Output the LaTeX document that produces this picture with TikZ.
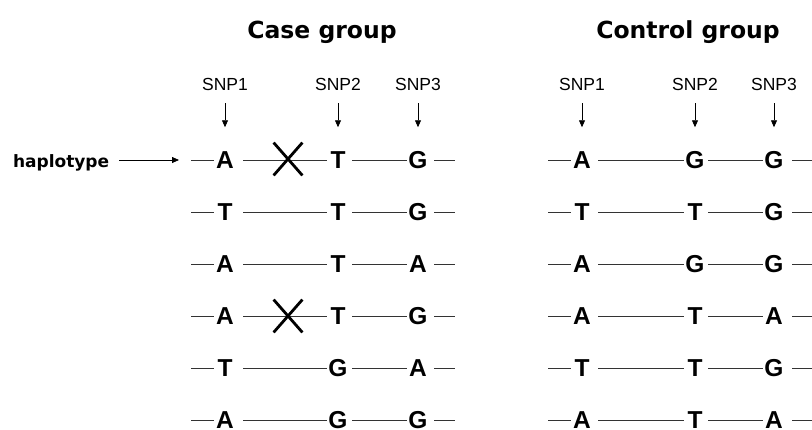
\documentclass[tikz,border=0pt]{standalone}
\usepackage{fontspec}
\setmainfont{Liberation Sans}
\newfontfamily\headfont{DejaVu Sans}
\usetikzlibrary{arrows.meta,shapes.misc}
\tikzset{
  base/.style={inner sep=0pt, outer sep=0pt},
  allele/.style={base, font=\bfseries\fontsize{24.5}{25}\selectfont, text height=17.5pt,
    text depth=0pt, minimum width=22pt, anchor=center},
  snplabel/.style={base, font=\fontsize{17.5}{18}\selectfont, text height=12.5pt,
    text depth=0pt},
  grouptitle/.style={base, font=\headfont\bfseries\fontsize{23.5}{24}\selectfont,
    text height=17pt, text depth=0pt},
  hapname/.style={base, font=\headfont\bfseries\fontsize{17}{18}\selectfont,
    text height=12pt, text depth=0pt, anchor=base west},
  link/.style={draw=black!80, line width=1pt},
  pointer/.style={line width=0.8pt, -{Triangle[width=6pt,length=7pt]}},
  recomb/.style={cross out, draw, line width=2.8pt, minimum width=26pt,
    minimum height=30pt, inner sep=0pt},
}
\begin{document}
\begin{tikzpicture}[x=1pt,y=-1pt]
\useasboundingbox (0,0) rectangle (812,429);
\clip (0,0) rectangle (812,429);

% group headings
\node[grouptitle] (casetitle) at (322,30) {Case group};
\node[grouptitle] (ctrltitle) at (688,30) {Control group};

% case group haplotypes
\foreach \i/\p/\q/\r in {1/A/T/G,2/T/T/G,3/A/T/A,4/A/T/G,5/T/G/A,6/A/G/G}{
  \pgfmathsetmacro\yy{160+52*(\i-1)}
  \node[allele] (c\i-a) at (225,\yy) {\p};
  \node[allele] (c\i-b) at (338,\yy) {\q};
  \node[allele] (c\i-c) at (418,\yy) {\r};
  \coordinate (c\i-l) at (191,\yy);
  \coordinate (c\i-r) at (455,\yy);
  \draw[link] (c\i-l) -- (c\i-a.west);
  \draw[link, shorten <=7pt] (c\i-a.east) -- (c\i-b.west);
  \draw[link, shorten <=3pt] (c\i-b.east) -- (c\i-c.west);
  \draw[link, shorten <=5pt] (c\i-c.east) -- (c\i-r);
}

% control group haplotypes
\foreach \i/\p/\q/\r in {1/A/G/G,2/T/T/G,3/A/G/G,4/A/T/A,5/T/T/G,6/A/T/A}{
  \pgfmathsetmacro\yy{160+52*(\i-1)}
  \node[allele] (k\i-a) at (582,\yy) {\p};
  \node[allele] (k\i-b) at (695,\yy) {\q};
  \node[allele] (k\i-c) at (774,\yy) {\r};
  \coordinate (k\i-l) at (548,\yy);
  \coordinate (k\i-r) at (814,\yy);
  \draw[link] (k\i-l) -- (k\i-a.west);
  \draw[link, shorten <=5pt] (k\i-a.east) -- (k\i-b.west);
  \draw[link, shorten <=2pt] (k\i-b.east) -- (k\i-c.west);
  \draw[link, shorten <=7pt] (k\i-c.east) -- (k\i-r);
}

% recombination marks
\node[recomb] (x1) at (288,159) {};
\node[recomb] (x4) at (288,316) {};

% SNP labels and pointers
\foreach \g in {c,k}{
  \foreach \s/\col in {1/a,2/b,3/c}{
    \path (\g1-\col) ++(0,-76) node[snplabel] (\g snp\s) {SNP\s};
    \draw[pointer, shorten <=13pt, shorten >=24pt] (\g snp\s.south) -- (\g1-\col.north);
  }
}

% haplotype label
\node[hapname] (hap) at (13,167) {haplotype};
\draw[pointer, shorten <=10pt, shorten >=12pt] (hap.east |- c1-l) -- (c1-l);
\end{tikzpicture}
\end{document}
